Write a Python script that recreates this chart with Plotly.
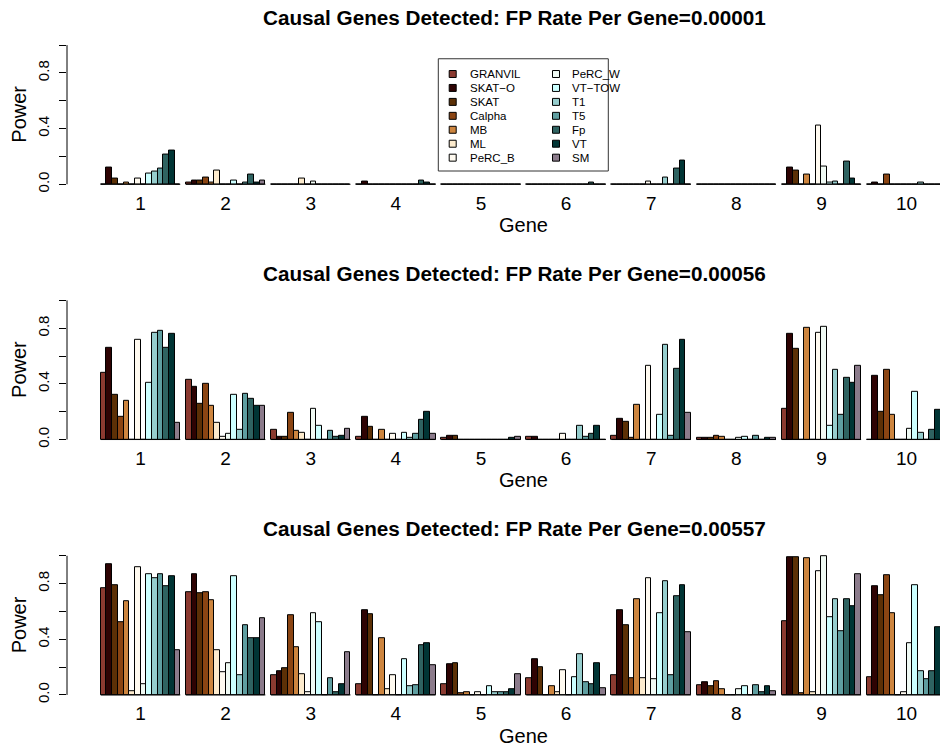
import plotly.graph_objects as go

# ---------------- data ----------------
methods = ["GRANVIL", "SKAT\u2212O", "SKAT", "Calpha", "MB", "ML", "PeRC_B",
           "PeRC_W", "VT\u2212TOW", "T1", "T5", "Fp", "VT", "SM"]
colors = ["#8B3A30", "#2E0303", "#5C3006", "#8B4513", "#CD853F", "#FDEBCD", "#FFFAF0",
          "#F0FAF4", "#CCFFFF", "#96CDCD", "#5F9EA0", "#2F6361", "#013535", "#8B7B8B"]
genes = ["1", "2", "3", "4", "5", "6", "7", "8", "9", "10"]
fp_rates = ["0.00001", "0.00056", "0.00557"]

# rows = genes 1..10, columns = methods (same order as `methods`)
power_fp00001 = [
    [0.00, 0.12, 0.04, 0.00, 0.01, 0.00, 0.04, 0.00, 0.08, 0.09, 0.11, 0.21, 0.24, 0.00],
    [0.01, 0.03, 0.03, 0.05, 0.01, 0.10, 0.00, 0.00, 0.03, 0.00, 0.01, 0.07, 0.01, 0.03],
    [0.00, 0.00, 0.00, 0.00, 0.00, 0.04, 0.00, 0.02, 0.00, 0.00, 0.00, 0.00, 0.00, 0.00],
    [0.00, 0.02, 0.00, 0.00, 0.00, 0.00, 0.00, 0.00, 0.00, 0.00, 0.00, 0.03, 0.01, 0.00],
    [0.00, 0.00, 0.00, 0.00, 0.00, 0.00, 0.00, 0.00, 0.00, 0.00, 0.00, 0.00, 0.00, 0.00],
    [0.00, 0.00, 0.00, 0.00, 0.00, 0.00, 0.00, 0.00, 0.00, 0.00, 0.00, 0.01, 0.00, 0.00],
    [0.00, 0.00, 0.00, 0.00, 0.00, 0.00, 0.02, 0.00, 0.00, 0.05, 0.00, 0.11, 0.17, 0.00],
    [0.00, 0.00, 0.00, 0.00, 0.00, 0.00, 0.00, 0.00, 0.00, 0.00, 0.00, 0.00, 0.00, 0.00],
    [0.00, 0.12, 0.10, 0.00, 0.07, 0.00, 0.42, 0.13, 0.01, 0.02, 0.00, 0.16, 0.04, 0.00],
    [0.00, 0.01, 0.00, 0.07, 0.00, 0.00, 0.00, 0.00, 0.00, 0.01, 0.00, 0.00, 0.00, 0.00],
]
power_fp00056 = [
    [0.48, 0.66, 0.32, 0.16, 0.28, 0.00, 0.72, 0.00, 0.41, 0.77, 0.78, 0.66, 0.76, 0.12],
    [0.43, 0.38, 0.26, 0.40, 0.24, 0.12, 0.02, 0.04, 0.32, 0.07, 0.33, 0.29, 0.24, 0.24],
    [0.07, 0.02, 0.02, 0.19, 0.06, 0.05, 0.00, 0.22, 0.10, 0.00, 0.06, 0.02, 0.03, 0.08],
    [0.02, 0.16, 0.09, 0.00, 0.07, 0.00, 0.04, 0.00, 0.05, 0.01, 0.04, 0.14, 0.20, 0.04],
    [0.01, 0.03, 0.03, 0.00, 0.00, 0.00, 0.00, 0.00, 0.00, 0.00, 0.00, 0.00, 0.01, 0.02],
    [0.02, 0.02, 0.00, 0.00, 0.00, 0.00, 0.04, 0.00, 0.00, 0.10, 0.02, 0.04, 0.10, 0.00],
    [0.03, 0.15, 0.13, 0.01, 0.25, 0.00, 0.53, 0.00, 0.18, 0.68, 0.03, 0.51, 0.72, 0.19],
    [0.01, 0.01, 0.01, 0.03, 0.02, 0.00, 0.00, 0.01, 0.02, 0.00, 0.03, 0.00, 0.01, 0.01],
    [0.22, 0.76, 0.65, 0.00, 0.80, 0.00, 0.77, 0.81, 0.10, 0.50, 0.18, 0.44, 0.41, 0.53],
    [0.00, 0.46, 0.20, 0.50, 0.18, 0.00, 0.00, 0.08, 0.34, 0.05, 0.00, 0.07, 0.21, 0.25],
]
power_fp00557 = [
    [0.77, 0.94, 0.79, 0.52, 0.67, 0.03, 0.92, 0.08, 0.87, 0.84, 0.87, 0.78, 0.85, 0.32],
    [0.74, 0.87, 0.73, 0.74, 0.68, 0.32, 0.16, 0.23, 0.85, 0.14, 0.50, 0.41, 0.41, 0.55],
    [0.14, 0.17, 0.19, 0.57, 0.34, 0.15, 0.02, 0.59, 0.52, 0.00, 0.12, 0.02, 0.08, 0.31],
    [0.08, 0.61, 0.58, 0.00, 0.41, 0.04, 0.14, 0.00, 0.26, 0.06, 0.07, 0.36, 0.37, 0.21],
    [0.08, 0.22, 0.23, 0.01, 0.02, 0.00, 0.02, 0.00, 0.06, 0.02, 0.02, 0.02, 0.04, 0.15],
    [0.12, 0.26, 0.20, 0.00, 0.06, 0.02, 0.18, 0.00, 0.13, 0.29, 0.09, 0.08, 0.23, 0.05],
    [0.14, 0.61, 0.50, 0.12, 0.69, 0.12, 0.84, 0.11, 0.59, 0.82, 0.14, 0.71, 0.79, 0.45],
    [0.07, 0.09, 0.06, 0.10, 0.04, 0.00, 0.00, 0.04, 0.06, 0.00, 0.07, 0.02, 0.06, 0.03],
    [0.53, 0.99, 0.99, 0.01, 0.98, 0.02, 0.89, 1.00, 0.56, 0.69, 0.46, 0.69, 0.64, 0.87],
    [0.13, 0.78, 0.72, 0.86, 0.59, 0.00, 0.02, 0.37, 0.79, 0.17, 0.11, 0.17, 0.49, 0.30],
]
panels = [power_fp00001, power_fp00056, power_fp00557]

# ---------------- layout geometry ----------------
W, H = 940, 749
FONT = "Liberation Sans, Arial, Helvetica, sans-serif"
nm = len(methods)
gw = nm + 1                      # group width (bars + 1 gap), R barplot beside=TRUE
x_lo = 1 - 0.04 * (len(genes) * gw - 1)
px_unit = 5.674
left_px = 67.0
x_hi = x_lo + (W - left_px) / px_unit
y_lo, y_hi = -0.04, 1.04
px_per_y = 139.7
zero_px = [185.0, 441.3, 697.7]


def py(p):
    return 1 - p / H


def px(p):
    return p / W


fig = go.Figure()
annotations = []
shapes = []

for k, data in enumerate(panels):
    xa = "x" if k == 0 else f"x{k+1}"
    ya = "y" if k == 0 else f"y{k+1}"
    for j in range(nm):
        xs = [g * gw + j + 1.5 for g in range(len(genes))]
        ys = [data[g][j] for g in range(len(genes))]
        fig.add_trace(go.Bar(
            x=xs, y=ys, width=1.0, xaxis=xa, yaxis=ya,
            marker=dict(color=colors[j], line=dict(color="black", width=1)),
            name=methods[j], showlegend=False,
        ))
    # baseline under each group (zero-height bars in R draw as a line)
    bx, by = [], []
    for g in range(len(genes)):
        bx += [g * gw + 1, g * gw + 1 + nm, None]
        by += [0, 0, None]
    fig.add_trace(go.Scatter(x=bx, y=by, mode="lines", xaxis=xa, yaxis=ya,
                             line=dict(color="black", width=1), showlegend=False,
                             hoverinfo="skip"))

    top = zero_px[k] - y_hi * px_per_y
    bot = zero_px[k] - y_lo * px_per_y
    dom = [py(bot), py(top)]
    axkey_x = "xaxis" if k == 0 else f"xaxis{k+1}"
    axkey_y = "yaxis" if k == 0 else f"yaxis{k+1}"
    fig.layout[axkey_x] = dict(
        domain=[px(left_px), 1], range=[x_lo, x_hi], anchor=ya,
        showgrid=False, zeroline=False, showline=False, ticks="",
        tickvals=[g * gw + 1 + nm / 2 for g in range(len(genes))], ticktext=genes,
        tickfont=dict(family=FONT, size=19, color="black"),
    )
    fig.layout[axkey_y] = dict(
        domain=dom, range=[y_lo, y_hi], anchor=xa,
        showgrid=False, zeroline=False, showline=False,
        ticks="outside", ticklen=7, tickwidth=1, tickcolor="black",
        tickvals=[0, 0.2, 0.4, 0.6, 0.8, 1.0],
        ticktext=["0.0", "", "0.4", "", "0.8", ""],
        tickangle=-90, ticklabelstandoff=4,
        tickfont=dict(family=FONT, size=15, color="black"),
    )
    shapes.append(dict(type="line", xref=f"{xa} domain", yref=ya, x0=0, x1=0, y0=0, y1=1,
                       line=dict(color="black", width=1)))
    annotations.append(dict(
        text=f"<b>Causal Genes Detected: FP Rate Per Gene={fp_rates[k]}</b>",
        x=px(514), y=py(zero_px[k] - 167), xref="paper", yref="paper",
        showarrow=False, xanchor="center", yanchor="middle",
        font=dict(family=FONT, size=20.7, color="black")))
    annotations.append(dict(
        text="Gene", x=px(523), y=py(zero_px[k] + 41), xref="paper", yref="paper",
        showarrow=False, xanchor="center", yanchor="middle",
        font=dict(family=FONT, size=20, color="black")))
    annotations.append(dict(
        text="Power", x=px(19), y=py(zero_px[k] - 0.5 * px_per_y), xref="paper", yref="paper",
        showarrow=False, xanchor="center", yanchor="middle", textangle=-90,
        font=dict(family=FONT, size=20, color="black")))

# ---------------- legend (two columns, drawn manually) ----------------
shapes.append(dict(type="rect", xref="paper", yref="paper",
                   x0=px(438.3), x1=px(608.3), y0=py(171.7), y1=py(59),
                   line=dict(color="#333333", width=1), fillcolor="white"))
for i, (m, c) in enumerate(zip(methods, colors)):
    col, row = divmod(i, 7)
    cx = 452.7 if col == 0 else 556.0
    tx = 468.0 if col == 0 else 570.0
    cy = 74.3 + 14.0 * row
    shapes.append(dict(type="rect", xref="paper", yref="paper",
                       x0=px(cx - 3.5), x1=px(cx + 3.5), y0=py(cy + 3.5), y1=py(cy - 3.5),
                       line=dict(color="black", width=1), fillcolor=c))
    annotations.append(dict(text=m, x=px(tx), y=py(cy), xref="paper", yref="paper",
                            showarrow=False, xanchor="left", yanchor="middle",
                            font=dict(family=FONT, size=11.5, color="black")))

fig.update_layout(
    width=W, height=H, margin=dict(l=0, r=0, t=0, b=0),
    paper_bgcolor="white", plot_bgcolor="white",
    barmode="overlay", bargap=0, showlegend=False,
    annotations=annotations, shapes=shapes,
    font=dict(family=FONT, color="black"),
)

fig.write_html("out.html", config={"displayModeBar": False},
               post_script="document.body.style.margin='0';")
